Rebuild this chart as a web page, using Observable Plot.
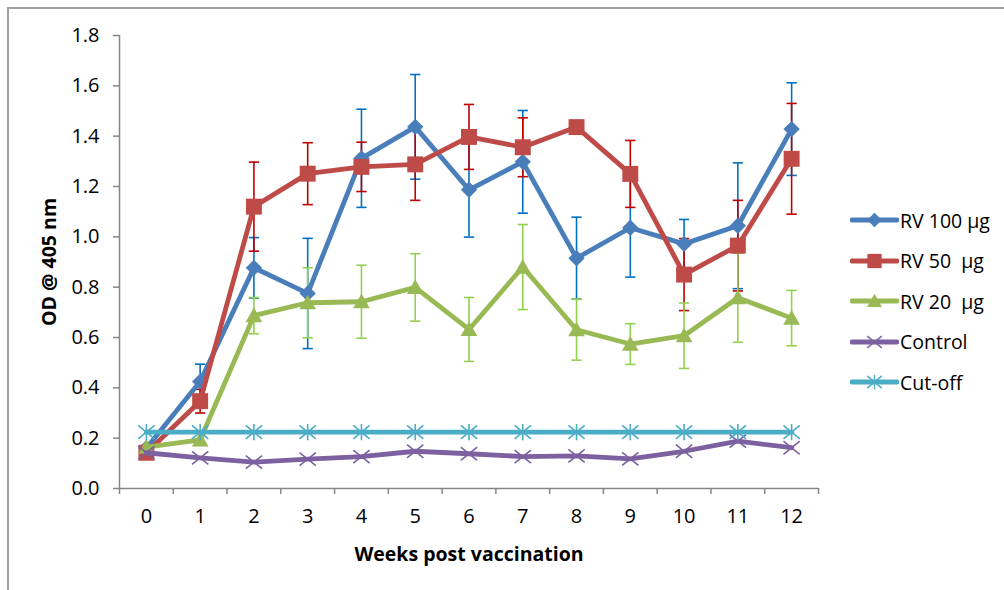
<!DOCTYPE html>
<html>
<head>
<meta charset="utf-8">
<script src="https://cdn.jsdelivr.net/npm/d3@7"></script>
<script src="https://cdn.jsdelivr.net/npm/@observablehq/plot@0.6"></script>
<style>
  body { margin: 0; background: #fff; }
  #wrap { position: relative; width: 1004px; height: 590px; overflow: hidden; font-family: "Open Sans", sans-serif; }
  #frame { position: absolute; left: 7px; top: 7px; width: 1200px; height: 800px; border-left: 2px solid #a0a0a0; border-top: 2px solid #a0a0a0; }
  #chart { position: absolute; left: 0; top: 0; }
  #legend { position: absolute; left: 850px; top: 200px; }
  .row { display: flex; align-items: center; height: 40.5px; font-size: 19.5px; white-space: pre; color: #000; }
  .row svg { margin-right: 1px; }
  #chart g[aria-label="x-axis label"] text, #chart g[aria-label="y-axis label"] text { font-weight: bold; font-size: 19.5px; }
</style>
</head>
<body>
<div id="wrap">
  <div id="frame"></div>
  <div id="chart"></div>
  <div id="legend"></div>
</div>
<script>
// ---- data ----
const weeks = [0, 1, 2, 3, 4, 5, 6, 7, 8, 9, 10, 11, 12];
const rv100 = [0.16, 0.425, 0.877, 0.775, 1.312, 1.437, 1.187, 1.298, 0.915, 1.036, 0.972, 1.044, 1.428];
const rv100Err = [0, 0.069, 0.12, 0.219, 0.195, 0.208, 0.188, 0.204, 0.163, 0.196, 0.097, 0.25, 0.184];
const rv50 = [0.142, 0.347, 1.12, 1.251, 1.278, 1.288, 1.397, 1.356, 1.436, 1.25, 0.85, 0.965, 1.31];
const rv50Err = [0, 0.047, 0.177, 0.123, 0.098, 0.143, 0.129, 0.117, 0, 0.133, 0.143, 0.18, 0.22];
const rv20 = [0.164, 0.193, 0.687, 0.738, 0.742, 0.799, 0.632, 0.88, 0.631, 0.574, 0.607, 0.758, 0.677];
const rv20Err = [0, 0, 0.072, 0.139, 0.145, 0.134, 0.127, 0.169, 0.121, 0.081, 0.13, 0.177, 0.11];
const control = [0.142, 0.122, 0.105, 0.117, 0.127, 0.148, 0.138, 0.127, 0.13, 0.118, 0.148, 0.188, 0.162];
const cutoff = [0.224, 0.224, 0.224, 0.224, 0.224, 0.224, 0.224, 0.224, 0.224, 0.224, 0.224, 0.224, 0.224];
const seriesNames = ["RV 100 µg", "RV 50  µg", "RV 20  µg", "Control", "Cut-off"];
const yTicks = [0, 0.2, 0.4, 0.6, 0.8, 1.0, 1.2, 1.4, 1.6, 1.8];
const xLabel = "Weeks post vaccination";
const yLabel = "OD @ 405 nm";

// ---- marker symbols (k = full width in px) ----
const K = s => Math.sqrt(s);
const diamond = { draw(c, s) { const h = K(s) / 2; c.moveTo(0, -h); c.lineTo(h, 0); c.lineTo(0, h); c.lineTo(-h, 0); c.closePath(); } };
const square = { draw(c, s) { const h = K(s) / 2; c.rect(-h, -h, 2 * h, 2 * h); } };
const triangle = { draw(c, s) { const h = K(s) / 2, t = K(s) * 0.88; c.moveTo(0, -t * 0.55); c.lineTo(h, t * 0.45); c.lineTo(-h, t * 0.45); c.closePath(); } };
const times = { draw(c, s) { const h = K(s) / 2, v = K(s) * 0.4; c.moveTo(-h, -v); c.lineTo(h, v); c.moveTo(-h, v); c.lineTo(h, -v); } };
const asterisk = { draw(c, s) { const h = K(s) / 2, v = K(s) * 0.42; c.moveTo(-h, -v); c.lineTo(h, v); c.moveTo(-h, v); c.lineTo(h, -v); c.moveTo(0, -h); c.lineTo(0, h); } };
const cap = { draw(c, s) { const h = K(s) / 2; c.moveTo(-h, 0); c.lineTo(h, 0); } };

const series = [
  { name: seriesNames[0], values: rv100, err: rv100Err, color: "#4A7EBB", errColor: "#0070C0", symbol: diamond, r: 9.2, filled: true },
  { name: seriesNames[1], values: rv50, err: rv50Err, color: "#BE4B48", errColor: "#C00000", symbol: square, r: 9, filled: true },
  { name: seriesNames[2], values: rv20, err: rv20Err, color: "#98B954", errColor: "#92D050", symbol: triangle, r: 9.4, filled: true },
  { name: seriesNames[3], values: control, err: null, color: "#7D60A0", symbol: times, r: 9.2, filled: false },
  { name: seriesNames[4], values: cutoff, err: null, color: "#4BACC6", symbol: asterisk, r: 9.2, filled: false }
];

const tables = series.map(s => weeks.map((w, i) => ({ week: w, value: s.values[i], err: s.err ? s.err[i] : 0, series: s.name })));

const marks = [];
const axisColor = "#868686";
marks.push(Plot.ruleY([0], { stroke: axisColor, strokeWidth: 1.5 }));
marks.push(Plot.ruleX([-0.5], { stroke: axisColor, strokeWidth: 1.5 }));
marks.push(Plot.axisY({
  ticks: yTicks, tickFormat: d3.format(".1f"), tickSize: 6, tickPadding: 14,
  stroke: axisColor, strokeWidth: 1.5, fill: "#000", fontSize: 20,
  label: yLabel, labelAnchor: "center", labelArrow: "none", labelOffset: 77
}));
marks.push(Plot.axisX({
  ticks: d3.range(-0.5, 13, 1), tickFormat: () => "", tickSize: 6,
  stroke: axisColor, strokeWidth: 1.5, label: null
}));
marks.push(Plot.axisX({
  ticks: weeks, tickFormat: d => String(d), tickSize: 0, tickPadding: 20,
  fill: "#000", fontSize: 20,
  label: xLabel, labelAnchor: "center", labelArrow: "none", labelOffset: 72
}));

// error bars
series.forEach((s, i) => {
  if (!s.err) return;
  const d = tables[i].filter(r => r.err > 0);
  marks.push(Plot.ruleX(d, { x: "week", y1: r => r.value - r.err, y2: r => r.value + r.err, stroke: s.errColor, strokeWidth: 1.6 }));
  marks.push(Plot.dot(d, { x: "week", y: r => r.value + r.err, symbol: cap, r: 5.8, stroke: s.errColor, strokeWidth: 1.6, fill: "none" }));
  marks.push(Plot.dot(d, { x: "week", y: r => r.value - r.err, symbol: cap, r: 5.8, stroke: s.errColor, strokeWidth: 1.6, fill: "none" }));
});

// lines + markers
series.forEach((s, i) => {
  marks.push(Plot.line(tables[i], { x: "week", y: "value", stroke: s.color, strokeWidth: 4.8, strokeLinejoin: "round", strokeLinecap: "round" }));
  if (s.filled) {
    marks.push(Plot.dot(tables[i], { x: "week", y: "value", symbol: s.symbol, r: s.r, fill: s.color, stroke: "none" }));
  } else {
    marks.push(Plot.dot(tables[i], { x: "week", y: "value", symbol: s.symbol, r: s.r, stroke: s.color, strokeWidth: 1.6, fill: "none" }));
  }
});

const chart = Plot.plot({
  width: 1004,
  height: 590,
  marginLeft: 119,
  marginRight: 186,
  marginTop: 35,
  marginBottom: 102,
  style: { fontFamily: "Open Sans, sans-serif", fontSize: "20px", background: "transparent", overflow: "visible" },
  x: { type: "linear", domain: [-0.5, 12.5] },
  y: { domain: [0, 1.8] },
  marks
});
document.getElementById("chart").appendChild(chart);

// legend
const legend = document.getElementById("legend");
series.forEach(s => {
  const row = document.createElement("div");
  row.className = "row";
  const svg = d3.create("svg").attr("width", 49).attr("height", 22);
  svg.append("line").attr("x1", 2).attr("x2", 47).attr("y1", 11).attr("y2", 11)
    .attr("stroke", s.color).attr("stroke-width", 4.8).attr("stroke-linecap", "round");
  const p = d3.path();
  s.symbol.draw(p, Math.PI * s.r * s.r * 0.8);
  svg.append("path").attr("d", p.toString()).attr("transform", "translate(24.5,11)")
    .attr("fill", s.filled ? s.color : "none").attr("stroke", s.filled ? "none" : s.color).attr("stroke-width", 1.4);
  row.appendChild(svg.node());
  const span = document.createElement("span");
  span.textContent = s.name;
  row.appendChild(span);
  legend.appendChild(row);
});
</script>
</body>
</html>
